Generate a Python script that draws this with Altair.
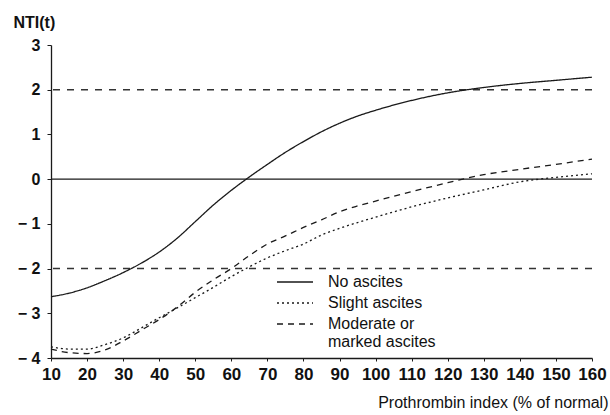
import altair as alt
import pandas as pd

# ---- data ----
x_vals = [10, 15, 20, 25, 30, 35, 40, 45, 50, 55, 60, 65, 70, 75, 80, 85, 90, 95, 100,
          110, 120, 130, 140, 150, 160]
no_ascites = [-2.63, -2.55, -2.43, -2.27, -2.09, -1.88, -1.63, -1.32, -0.95, -0.58, -0.25,
              0.05, 0.33, 0.60, 0.84, 1.06, 1.25, 1.41, 1.54, 1.76, 1.93, 2.05, 2.14, 2.21, 2.28]
slight_ascites = [-3.75, -3.80, -3.80, -3.70, -3.55, -3.33, -3.10, -2.88, -2.65, -2.42, -2.18,
                  -1.96, -1.76, -1.60, -1.45, -1.25, -1.10, -0.97, -0.85, -0.62, -0.42, -0.24,
                  -0.06, 0.04, 0.12]
moderate_ascites = [-3.80, -3.88, -3.90, -3.82, -3.62, -3.38, -3.14, -2.86, -2.53, -2.25, -2.00,
                    -1.71, -1.45, -1.27, -1.08, -0.91, -0.73, -0.60, -0.49, -0.28, -0.08, 0.10,
                    0.22, 0.33, 0.45]
series_names = ["No ascites", "Slight ascites", "Moderate or marked ascites"]
ref_dashed = [-2, 2]
ref_solid = [0]
x_ticks = list(range(10, 161, 10))
y_ticks = list(range(-4, 4))

rows = []
for name, ys in zip(series_names, [no_ascites, slight_ascites, moderate_ascites]):
    for xv, yv in zip(x_vals, ys):
        rows.append({"x": xv, "y": yv, "series": name})
df = pd.DataFrame(rows)

FONT = "Liberation Sans"
INK = "#1a1a1a"

xscale = alt.Scale(domain=[10, 160], nice=False, zero=False)
yscale = alt.Scale(domain=[-4, 3], nice=False, zero=False)

x_axis = alt.Axis(
    values=x_ticks, title="Prothrombin index (% of normal)", grid=False,
    labelFont=FONT, labelFontSize=17, labelFontWeight="bold", labelColor="#111",
    labelPadding=5, tickSize=3, tickColor=INK, domainColor=INK, domainWidth=1.3,
    labelFlush=False, labelOverlap=False,
    titleFont=FONT, titleFontSize=16, titleFontWeight="normal", titleColor="#111",
    titleAlign="right", titleAnchor="end", titleX=557, titleY=44, titleBaseline="middle",
)
y_axis = alt.Axis(
    values=y_ticks, title="NTI(t)", grid=False,
    labelFont=FONT, labelFontSize=16, labelFontWeight="bold", labelColor="#111",
    labelExpr="datum.value < 0 ? '\u2212 ' + abs(datum.value) : datum.label",
    labelPadding=7, tickSize=4, tickColor=INK, domainColor=INK, domainWidth=1.3,
    labelFlush=False,
    titleFont=FONT, titleFontSize=16, titleFontWeight="bold", titleColor="#111",
    titleAngle=0, titleAlign="left", titleX=-38, titleY=-23, titleBaseline="middle",
)

lines = alt.Chart(df).mark_line(strokeWidth=1.3, color=INK, interpolate="monotone").encode(
    x=alt.X("x:Q", scale=xscale, axis=x_axis),
    y=alt.Y("y:Q", scale=yscale, axis=y_axis),
    strokeDash=alt.StrokeDash(
        "series:N",
        scale=alt.Scale(domain=series_names, range=[[1, 0], [2, 3], [6, 5]]),
        legend=alt.Legend(
            title=None, orient="none", legendX=236, legendY=229, padding=0,
            symbolType="M-4,0L4,0", symbolSize=81, symbolStrokeWidth=1.3,
            symbolStrokeColor=INK, symbolFillColor="transparent",
            labelFont=FONT, labelFontSize=16, labelColor="#111", labelOffset=25,
            labelLimit=0, rowPadding=5,
            labelExpr="datum.label == 'Moderate or marked ascites' ? ['Moderate or', 'marked ascites'] : datum.label",
        ),
    ),
)

rule_solid = alt.Chart(pd.DataFrame({"y": ref_solid})).mark_rule(
    color=INK, strokeWidth=1.3).encode(y=alt.Y("y:Q", scale=yscale))
rule_dashed = alt.Chart(pd.DataFrame({"y": ref_dashed})).mark_rule(
    color="#333", strokeWidth=1.5, strokeDash=[7, 7]).encode(y=alt.Y("y:Q", scale=yscale))

chart = alt.layer(rule_dashed, rule_solid, lines).properties(
    width=541, height=313, autosize="none",
    padding={"left": 51, "top": 45, "right": 18, "bottom": 57},
    background="white",
).configure_view(stroke=None)

chart.save("out.html", embed_options={"renderer": "svg", "actions": False})
